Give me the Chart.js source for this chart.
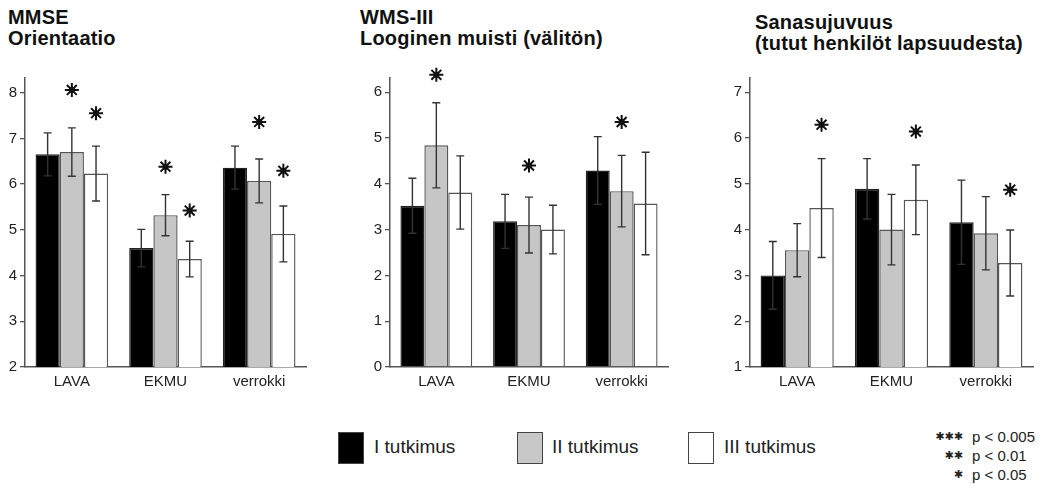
<!DOCTYPE html>
<html>
<head>
<meta charset="utf-8">
<script src="https://cdn.jsdelivr.net/npm/chart.js@4.4.1/dist/chart.umd.min.js"></script>
<style>
  html, body { margin: 0; padding: 0; background: #fff; }
  body { width: 1045px; height: 486px; position: relative; overflow: hidden; font-family: "Liberation Sans", Arial, sans-serif; color: #111; }
  .title { position: absolute; font-weight: bold; font-size: 20px; line-height: 21px; white-space: nowrap; letter-spacing: 0.2px; }
  .panel { position: absolute; top: 60px; height: 340px; }
  .lg-box { position: absolute; top: 432px; width: 24px; height: 30px; border: 1px solid #444; }
  .lg-text { position: absolute; top: 436px; font-size: 19px; line-height: 22px; white-space: nowrap; color: #222; }
  .p-row { position: absolute; left: 900px; width: 145px; height: 18px; font-size: 15px; line-height: 18px; color: #222; }
  .p-row .st { position: absolute; right: 82px; font-family: "DejaVu Sans", sans-serif; font-size: 11px; }
  .p-row .tx { position: absolute; left: 72px; }
</style>
</head>
<body>

<div class="title" style="left:8px;top:7px;">MMSE<br>Orientaatio</div>
<div class="title" style="left:360px;top:7px;">WMS-III<br>Looginen muisti (välitön)</div>
<div class="title" style="left:755px;top:12px;">Sanasujuvuus<br>(tutut henkilöt lapsuudesta)</div>

<div class="panel" style="left:0px;width:320px;"><canvas id="c1"></canvas></div>
<div class="panel" style="left:340px;width:340px;"><canvas id="c2"></canvas></div>
<div class="panel" style="left:700px;width:345px;"><canvas id="c3"></canvas></div>

<div class="lg-box" style="left:338px;background:#000;"></div>
<div class="lg-text" style="left:374px;">I tutkimus</div>
<div class="lg-box" style="left:517px;background:#c8c8c8;"></div>
<div class="lg-text" style="left:552px;">II tutkimus</div>
<div class="lg-box" style="left:688px;background:#fff;"></div>
<div class="lg-text" style="left:724px;">III tutkimus</div>

<div class="p-row" style="top:428px;"><span class="st">✱✱✱</span><span class="tx">p &lt; 0.005</span></div>
<div class="p-row" style="top:447px;"><span class="st">✱✱</span><span class="tx">p &lt; 0.01</span></div>
<div class="p-row" style="top:466px;"><span class="st">✱</span><span class="tx">p &lt; 0.05</span></div>

<script>
// ryhmät ja mittauskerrat
const categories = ['LAVA', 'EKMU', 'verrokki'];
const seriesNames = ['I tutkimus', 'II tutkimus', 'III tutkimus'];

// MMSE orientaatio
const mmseI = [6.65, 4.60, 6.36];
const mmseII = [6.70, 5.32, 6.07];
const mmseIII = [6.23, 4.36, 4.91];
const mmseErrI = [0.47, 0.41, 0.47];
const mmseErrII = [0.53, 0.45, 0.48];
const mmseErrIII = [0.60, 0.39, 0.61];
const mmseSigII = [8.06, 6.38, 7.36];
const mmseSigIII = [7.55, 5.42, 6.29];
const mmseTicks = [2, 3, 4, 5, 6, 7, 8];

// WMS-III looginen muisti
const wmsI = [3.52, 3.18, 4.29];
const wmsII = [4.84, 3.10, 3.84];
const wmsIII = [3.81, 3.00, 3.57];
const wmsErrI = [0.60, 0.59, 0.74];
const wmsErrII = [0.93, 0.61, 0.78];
const wmsErrIII = [0.80, 0.53, 1.12];
const wmsSigII = [6.38, 4.40, 5.35];
const wmsTicks = [0, 1, 2, 3, 4, 5, 6];

// sanasujuvuus
const sanaI = [3.00, 4.89, 4.16];
const sanaII = [3.55, 4.00, 3.92];
const sanaIII = [4.47, 4.65, 3.27];
const sanaErrI = [0.74, 0.66, 0.92];
const sanaErrII = [0.58, 0.77, 0.80];
const sanaErrIII = [1.08, 0.76, 0.72];
const sanaSigIII = [6.29, 6.14, 4.87];
const sanaTicks = [1, 2, 3, 4, 5, 6, 7];

const fills = ['#000000', '#c6c6c6', '#ffffff'];
const borders = ['#222222', '#555555', '#555555'];
const axisColor = '#555';

// virhepalkit ja tähdet
const extrasPlugin = {
    id: 'extras',
    afterDatasetsDraw(chart) {
        const { ctx } = chart;
        const yScale = chart.scales.y;
        chart.data.datasets.forEach((ds, i) => {
            const meta = chart.getDatasetMeta(i);
            meta.data.forEach((bar, j) => {
                const v = ds.data[j];
                const e = ds.err[j];
                const x = bar.x;
                const yt = yScale.getPixelForValue(v + e);
                const yb = yScale.getPixelForValue(v - e);
                ctx.save();
                ctx.strokeStyle = '#333';
                ctx.lineWidth = 1.4;
                ctx.beginPath();
                ctx.moveTo(x, yt); ctx.lineTo(x, yb);
                ctx.moveTo(x - 4, yt); ctx.lineTo(x + 4, yt);
                ctx.moveTo(x - 4, yb); ctx.lineTo(x + 4, yb);
                ctx.stroke();
                ctx.restore();

                const s = ds.sig ? ds.sig[j] : null;
                if (s != null) {
                    const ys = yScale.getPixelForValue(s);
                    ctx.save();
                    ctx.strokeStyle = '#111';
                    ctx.fillStyle = '#111';
                    ctx.lineWidth = 2;
                    ctx.beginPath();
                    for (let k = 0; k < 4; k++) {
                        const a = k * Math.PI / 4;
                        ctx.moveTo(x - 7 * Math.cos(a), ys - 7 * Math.sin(a));
                        ctx.lineTo(x + 7 * Math.cos(a), ys + 7 * Math.sin(a));
                    }
                    ctx.stroke();
                    ctx.beginPath();
                    ctx.arc(x, ys, 3, 0, Math.PI * 2);
                    ctx.fill();
                    ctx.restore();
                }
            });
        });
    }
};

function makeChart(id, values, errs, sigs, ticks, yMin, yMax, axisW, padRight) {
    const datasets = values.map((vals, i) => ({
        label: seriesNames[i],
        data: vals,
        err: errs[i],
        sig: sigs[i],
        backgroundColor: fills[i],
        borderColor: borders[i],
        borderWidth: 1.4,
        borderSkipped: 'bottom',
        categoryPercentage: 0.775,
        barPercentage: 1.0
    }));
    new Chart(document.getElementById(id), {
        type: 'bar',
        data: { labels: categories, datasets },
        options: {
            responsive: true,
            maintainAspectRatio: false,
            animation: false,
            layout: { padding: { top: 18, right: padRight, left: 0, bottom: 0 } },
            plugins: { legend: { display: false }, tooltip: { enabled: false } },
            scales: {
                x: {
                    grid: { display: false, drawTicks: false },
                    border: { display: true, color: axisColor, width: 1.5 },
                    ticks: { color: '#222', font: { family: 'Liberation Sans', size: 15 }, padding: 6 },
                    afterFit(s) { s.height = 33; }
                },
                y: {
                    min: yMin,
                    max: yMax,
                    grid: { drawOnChartArea: false, drawTicks: true, tickLength: 5, color: axisColor, lineWidth: 1.3 },
                    border: { display: true, color: axisColor, width: 1.5 },
                    ticks: { stepSize: 1, color: '#222', font: { family: 'Liberation Sans', size: 15 }, padding: 3 },
                    afterBuildTicks(s) { s.ticks = ticks.map(v => ({ value: v })); },
                    afterFit(s) { s.width = axisW; }
                }
            }
        },
        plugins: [extrasPlugin]
    });
}

makeChart('c1', [mmseI, mmseII, mmseIII], [mmseErrI, mmseErrII, mmseErrIII],
    [null, mmseSigII, mmseSigIII], mmseTicks, 2, 8.32, 25, 14);
makeChart('c2', [wmsI, wmsII, wmsIII], [wmsErrI, wmsErrII, wmsErrIII],
    [null, wmsSigII, null], wmsTicks, 0, 6.31, 50, 12);
makeChart('c3', [sanaI, sanaII, sanaIII], [sanaErrI, sanaErrII, sanaErrIII],
    [null, null, sanaSigIII], sanaTicks, 1, 7.31, 50, 12);
</script>
</body>
</html>
